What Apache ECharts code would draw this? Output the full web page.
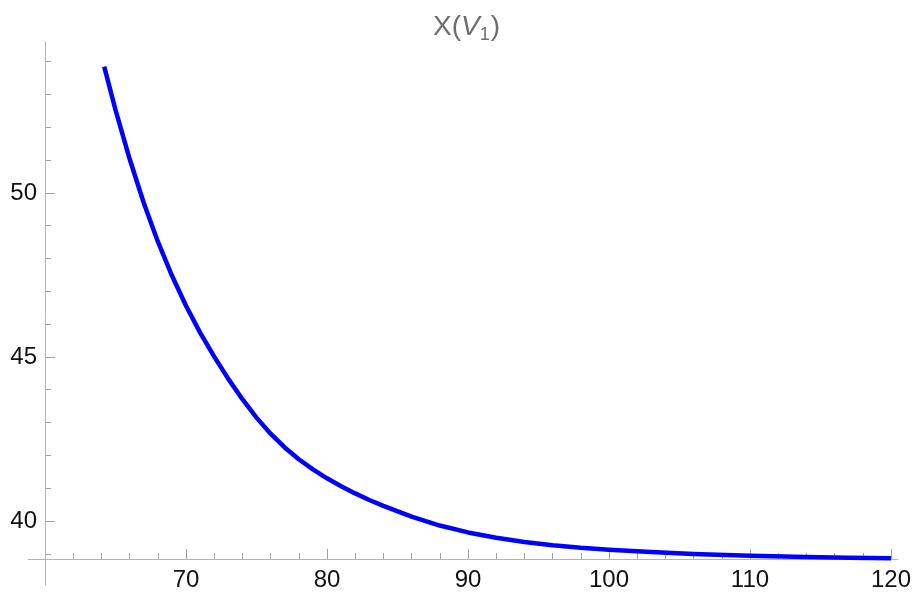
<!DOCTYPE html>
<html>
<head>
<meta charset="utf-8">
<script src="https://cdn.jsdelivr.net/npm/echarts@6/dist/echarts.min.js"></script>
<style>html,body{margin:0;padding:0;background:#fff}#c{width:914px;height:595px}</style>
</head>
<body>
<div id="c"></div>
<script>
// Curve samples
const xValues = [64.2, 65, 66, 67, 68, 69, 70, 71, 72, 73, 74, 75, 76, 77, 78, 79, 80,
                 81, 82, 83, 84, 86, 88, 90, 92, 94, 96, 98, 100, 103, 106, 110, 114, 117, 120];
const yValues = [53.85, 52.53, 51.04, 49.70, 48.52, 47.48, 46.56, 45.74, 45.01, 44.33, 43.71, 43.15, 42.66, 42.24, 41.88, 41.57, 41.30,
                 41.06, 40.84, 40.64, 40.46, 40.13, 39.86, 39.65, 39.49, 39.36, 39.26, 39.18, 39.12, 39.05, 38.99, 38.94, 38.90, 38.88, 38.86];

// Tick values
const xMajorTicks = [70, 80, 90, 100, 110, 120];
const xMinorTicks = [62, 64, 66, 68, 72, 74, 76, 78, 82, 84, 86, 88, 92, 94, 96, 98, 102, 104, 106, 108, 112, 114, 116, 118];
const yMajorTicks = [40, 45, 50];
const yMinorTicks = [39, 41, 42, 43, 44, 46, 47, 48, 49, 51, 52, 53, 54];

// Axis ranges
const xRange = [60, 120.45];
const yRange = [38.84, 54.6];

const axisColor = '#b4b4b4';
const tickColor = '#a0a0a0';
const labelFont = { fontFamily: 'Liberation Sans', fontSize: 24, color: '#111' };
const titleBase = { fontFamily: 'Liberation Sans', color: '#6e6e6e', fontWeight: 'normal', lineHeight: 34 };

const points = xValues.map((x, i) => [x, yValues[i]]);

const chart = echarts.init(document.getElementById('c'), null, { renderer: 'canvas' });
chart.setOption({
  animation: false,
  backgroundColor: '#fff',
  title: {
    text: '{n|X(}{i|V}{s|1}{n|)}',
    left: 428,
    top: 5,
    textStyle: {
      fontWeight: 'normal',
      rich: {
        n: { ...titleBase, fontSize: 28, verticalAlign: 'middle' },
        i: { ...titleBase, fontSize: 28, fontStyle: 'italic', verticalAlign: 'middle' },
        s: { ...titleBase, fontSize: 18, verticalAlign: 'bottom', padding: [0, 1, 0, 0] }
      }
    }
  },
  grid: [
    { left: 45, right: 16, top: 42, bottom: 36 },
    { left: 28, right: 16, top: 42, bottom: 36 },
    { left: 45, right: 16, top: 42, bottom: 10 }
  ],
  xAxis: [
    {
      gridIndex: 0, type: 'value', position: 'bottom', min: xRange[0], max: xRange[1],
      axisLine: { show: false },
      axisTick: { show: true, inside: true, length: 10, customValues: xMajorTicks, lineStyle: { color: tickColor, width: 1 } },
      axisLabel: { show: true, customValues: xMajorTicks, margin: 9, ...labelFont },
      splitLine: { show: false }
    },
    {
      gridIndex: 0, type: 'value', position: 'bottom', min: xRange[0], max: xRange[1],
      axisLine: { show: false },
      axisTick: { show: true, inside: true, length: 6, customValues: xMinorTicks, lineStyle: { color: tickColor, width: 1 } },
      axisLabel: { show: false },
      splitLine: { show: false }
    },
    {
      gridIndex: 1, type: 'value', position: 'bottom', min: 0, max: 1,
      axisLine: { show: true, lineStyle: { color: axisColor, width: 1 } },
      axisTick: { show: false }, axisLabel: { show: false }, splitLine: { show: false }
    },
    { gridIndex: 2, type: 'value', min: 0, max: 1, show: false }
  ],
  yAxis: [
    {
      gridIndex: 0, type: 'value', position: 'left', min: yRange[0], max: yRange[1],
      axisLine: { show: false },
      axisTick: { show: true, inside: true, length: 10, customValues: yMajorTicks, lineStyle: { color: tickColor, width: 1 } },
      axisLabel: { show: true, customValues: yMajorTicks, margin: 8, ...labelFont },
      splitLine: { show: false }
    },
    {
      gridIndex: 0, type: 'value', position: 'left', min: yRange[0], max: yRange[1],
      axisLine: { show: false },
      axisTick: { show: true, inside: true, length: 6, customValues: yMinorTicks, lineStyle: { color: tickColor, width: 1 } },
      axisLabel: { show: false },
      splitLine: { show: false }
    },
    { gridIndex: 1, type: 'value', min: 0, max: 1, show: false },
    {
      gridIndex: 2, type: 'value', position: 'left', min: 0, max: 1,
      axisLine: { show: true, lineStyle: { color: axisColor, width: 1 } },
      axisTick: { show: false }, axisLabel: { show: false }, splitLine: { show: false }
    }
  ],
  series: [
    {
      type: 'line',
      xAxisIndex: 0, yAxisIndex: 0,
      data: points,
      showSymbol: false,
      smooth: false,
      clip: false,
      lineStyle: { color: '#0000ff', width: 4.5, cap: 'butt', join: 'round' },
      z: 5
    }
  ]
});
</script>
</body>
</html>
